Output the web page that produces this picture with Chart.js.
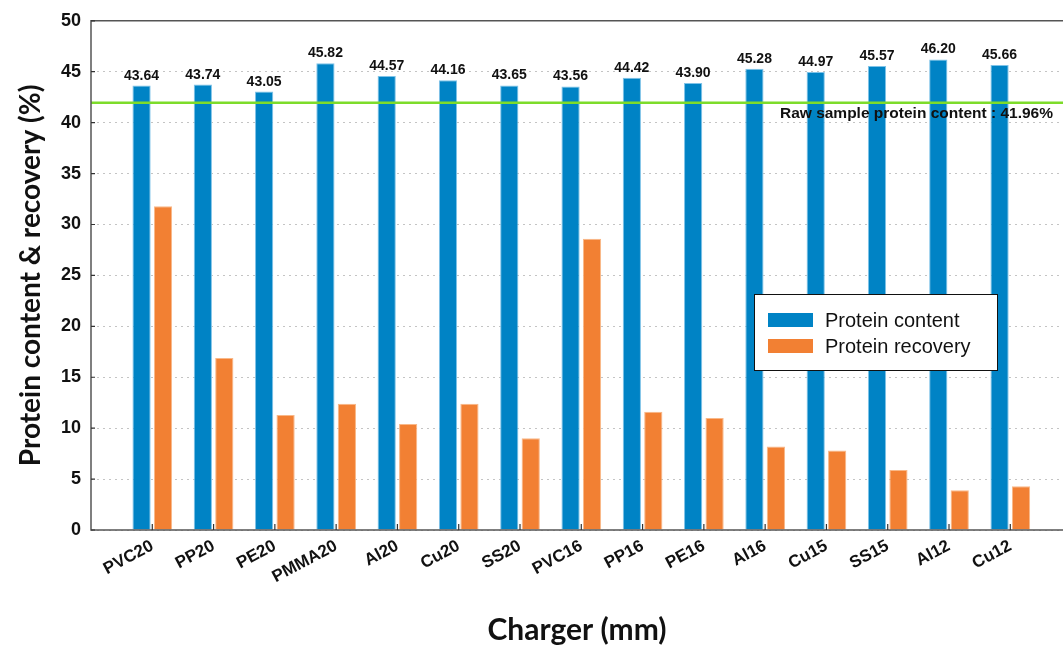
<!DOCTYPE html>
<html>
<head>
<meta charset="utf-8">
<script src="https://cdn.jsdelivr.net/npm/chart.js@4/dist/chart.umd.min.js"></script>
<style>
  html, body { margin: 0; padding: 0; background: #fff; overflow: hidden; }
  #wrap { width: 1063px; height: 648px; position: relative; }
</style>
</head>
<body>
<div id="wrap"><canvas id="proteinChart" width="1063" height="648"></canvas></div>
<script>
// chargers (tube material + diameter in mm)
const chargers = ['PVC20', 'PP20', 'PE20', 'PMMA20', 'Al20', 'Cu20', 'SS20', 'PVC16', 'PP16', 'PE16', 'Al16', 'Cu15', 'SS15', 'Al12', 'Cu12'];
const proteinContent = [43.64, 43.74, 43.05, 45.82, 44.57, 44.16, 43.65, 43.56, 44.42, 43.90, 45.28, 44.97, 45.57, 46.20, 45.66];
const proteinRecovery = [31.8, 16.9, 11.3, 12.4, 10.4, 12.4, 9.0, 28.6, 11.6, 11.0, 8.2, 7.8, 5.9, 3.9, 4.3];
const rawProtein = 41.96;
const yTicks = [0, 5, 10, 15, 20, 25, 30, 35, 40, 45, 50];

const BLUE = '#0083c5';
const ORANGE = '#f28033';
const GREEN = '#7ddc2a';
const AXIS = '#555555';
const FONT = '"Liberation Sans", Arial, sans-serif';
const TITLE_FONT = 'Lato, "Open Sans", sans-serif';

const toPoints = arr => arr.map((v, i) => ({ x: i + 1, y: v }));

// frame, inner ticks, value labels, reference line and legend
const decorations = {
  id: 'decorations',
  afterDatasetsDraw(chart) {
    const { ctx, chartArea: a, scales: { x, y } } = chart;
    ctx.save();

    // raw sample reference line
    const gy = y.getPixelForValue(rawProtein);
    ctx.strokeStyle = GREEN;
    ctx.lineWidth = 2.5;
    ctx.beginPath();
    ctx.moveTo(a.left, gy);
    ctx.lineTo(a.right, gy);
    ctx.stroke();

    ctx.fillStyle = '#111';
    ctx.font = 'bold 15.5px ' + FONT;
    ctx.textAlign = 'right';
    ctx.textBaseline = 'middle';
    ctx.fillText('Raw sample protein content : ' + rawProtein.toFixed(2) + '%', 1053, 114);

    // value labels above the protein content bars
    const meta = chart.getDatasetMeta(0);
    ctx.font = 'bold 14px ' + FONT;
    ctx.textAlign = 'center';
    ctx.textBaseline = 'alphabetic';
    meta.data.forEach((bar, i) => {
      ctx.fillText(proteinContent[i].toFixed(2), bar.x, bar.y - 6);
    });

    // frame
    ctx.strokeStyle = AXIS;
    ctx.lineWidth = 1.5;
    ctx.beginPath();
    ctx.moveTo(a.right, a.top);
    ctx.lineTo(a.left, a.top);
    ctx.lineTo(a.left, a.bottom);
    ctx.lineTo(a.right, a.bottom);
    ctx.stroke();

    // inner tick marks
    ctx.lineWidth = 1.2;
    ctx.strokeStyle = '#333';
    ctx.beginPath();
    yTicks.forEach(v => {
      const py = y.getPixelForValue(v);
      ctx.moveTo(a.left, py);
      ctx.lineTo(a.left + 4, py);
    });
    chargers.forEach((c, i) => {
      const px = x.getPixelForValue(i + 1);
      ctx.moveTo(px, a.bottom);
      ctx.lineTo(px, a.bottom - 6);
    });
    ctx.stroke();

    // legend
    const lx = 754, ly = 294, lw = 243, lh = 76;
    ctx.fillStyle = '#fff';
    ctx.fillRect(lx, ly, lw, lh);
    ctx.strokeStyle = '#111';
    ctx.lineWidth = 1;
    ctx.strokeRect(lx + 0.5, ly + 0.5, lw, lh);
    const items = [['Protein content', BLUE], ['Protein recovery', ORANGE]];
    ctx.font = '20px ' + FONT;
    ctx.textAlign = 'left';
    ctx.textBaseline = 'middle';
    items.forEach(([label, color], i) => {
      const cy = 320 + i * 26;
      ctx.fillStyle = color;
      ctx.fillRect(768, cy - 7, 45, 14);
      ctx.fillStyle = '#111';
      ctx.fillText(label, 825, cy + 1);
    });

    ctx.restore();
  }
};

new Chart(document.getElementById('proteinChart'), {
  type: 'bar',
  data: {
    datasets: [
      {
        label: 'Protein content',
        data: toPoints(proteinContent),
        backgroundColor: BLUE,
        borderColor: '#7fc3e8',
        borderWidth: 1,
        borderSkipped: 'bottom'
      },
      {
        label: 'Protein recovery',
        data: toPoints(proteinRecovery),
        backgroundColor: ORANGE,
        borderColor: '#f9b888',
        borderWidth: 1,
        borderSkipped: 'bottom'
      }
    ]
  },
  options: {
    responsive: false,
    animation: false,
    categoryPercentage: 0.7,
    barPercentage: 0.85,
    layout: { padding: { top: 18, left: 0, right: 0, bottom: 0 } },
    plugins: {
      legend: { display: false },
      tooltip: { enabled: false }
    },
    scales: {
      x: {
        type: 'linear',
        min: 0,
        max: 15.86,
        offset: false,
        grid: { display: false, drawTicks: false },
        border: { display: false },
        afterFit: s => { s.height = 118; },
        ticks: {
          stepSize: 1,
          autoSkip: false,
          includeBounds: false,
          minRotation: 28,
          maxRotation: 28,
          padding: 6,
          color: '#111',
          font: { family: FONT, size: 17, weight: 'bold' },
          callback: v => chargers[v - 1] || ''
        },
        title: {
          display: true,
          text: 'Charger (mm)',
          color: '#111',
          font: { family: TITLE_FONT, size: 30, weight: 'bold' },
          padding: { top: 0, bottom: 0 }
        }
      },
      y: {
        min: 0,
        max: 50,
        afterFit: s => { s.width = 91; },
        grid: { color: '#c4c4c4', lineWidth: 1, drawTicks: false },
        border: { display: false, dash: [2, 4] },
        ticks: {
          stepSize: 5,
          padding: 10,
          color: '#111',
          font: { family: FONT, size: 18, weight: 'bold' }
        },
        title: {
          display: true,
          text: 'Protein content & recovery (%)',
          color: '#111',
          font: { family: TITLE_FONT, size: 28, weight: 'bold' },
          padding: { top: 14, bottom: 0 }
        }
      }
    }
  },
  plugins: [decorations]
});
</script>
</body>
</html>
